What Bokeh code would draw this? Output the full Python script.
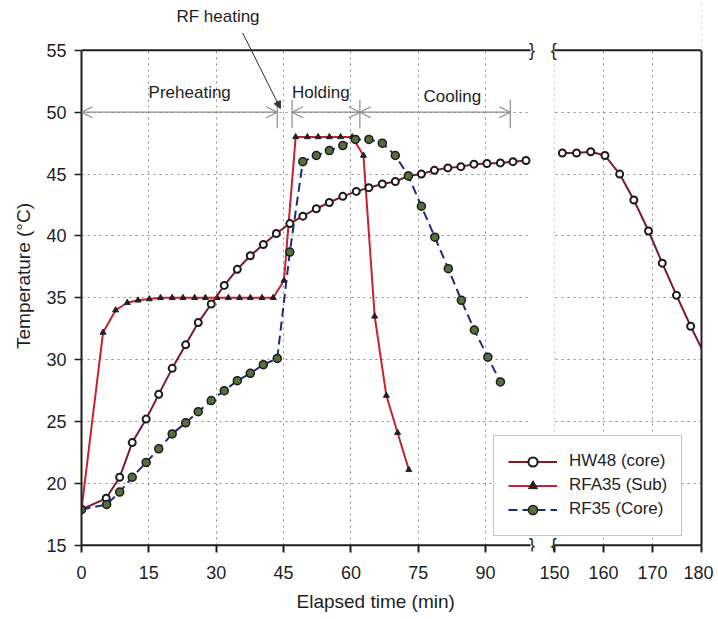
import numpy as np
from bokeh.plotting import figure
from bokeh.models import (Range1d, FixedTicker, LinearAxis, Legend, LegendItem,
                          Label, Arrow, OpenHead, NormalHead, BoxAnnotation, Title)
from bokeh.embed import file_html
from bokeh.resources import INLINE

# ---------------- data ----------------
HW48_TIME = [0, 5.5, 8.5, 11.3, 14.4, 17.2, 20.2, 23.2, 26.0, 28.9, 31.8, 34.7, 37.6, 40.5,
             43.4, 46.4, 49.3, 52.3, 55.2, 58.2, 61.2, 64.0, 67.0, 69.9, 72.8, 75.7, 78.6,
             81.6, 84.5, 87.4, 90.3, 93.3, 96.1, 99.0,
             151.6, 154.5, 157.4, 160.3, 163.3, 166.2, 169.2, 172.0, 174.9, 177.8, 180.9]
HW48_TEMP = [17.9, 18.8, 20.5, 23.3, 25.2, 27.2, 29.3, 31.2, 33.0, 34.5, 36.0, 37.3, 38.4, 39.3,
             40.2, 41.0, 41.6, 42.2, 42.7, 43.2, 43.6, 43.9, 44.2, 44.4, 44.85, 45.0, 45.3,
             45.5, 45.6, 45.8, 45.85, 45.9, 46.0, 46.1,
             46.7, 46.7, 46.8, 46.5, 45.0, 42.9, 40.4, 37.8, 35.2, 32.7, 30.2]

RFA35_TIME = [0, 4.8, 7.6, 10.2, 12.6, 15.1, 17.6, 20.2, 22.6, 25.2, 27.6, 30.2, 32.7, 35.2,
              37.6, 40.2, 42.7, 45.1, 47.7, 50.3, 52.7, 55.2, 57.7, 60.3, 62.8, 65.3, 67.9,
              70.4, 72.9]
RFA35_TEMP = [17.9, 32.2, 34.0, 34.6, 34.8, 34.9, 35.0, 35.0, 35.0, 35.0, 35.0, 35.0, 35.0, 35.0,
              35.0, 35.0, 35.0, 36.4, 48.0, 48.0, 48.0, 48.0, 48.0, 48.0, 46.5, 33.5, 27.1,
              24.1, 21.1]

RF35_TIME = [0, 5.6, 8.5, 11.3, 14.4, 17.2, 20.2, 23.2, 26.0, 28.9, 31.8, 34.7, 37.6, 40.5,
             43.6, 46.4, 49.3, 52.3, 55.2, 58.2, 61.0, 64.0, 67.0, 69.9, 72.8, 75.7, 78.7,
             81.7, 84.6, 87.5, 90.5, 93.3]
RF35_TEMP = [17.9, 18.3, 19.3, 20.5, 21.7, 22.8, 24.0, 24.9, 25.8, 26.7, 27.5, 28.3, 28.9, 29.6,
             30.1, 38.7, 46.0, 46.5, 46.9, 47.3, 47.8, 47.8, 47.5, 46.5, 44.85, 42.4, 39.9,
             37.35, 34.8, 32.4, 30.2, 28.2]

SERIES_NAMES = ["HW48 (core)", "RFA35 (Sub)", "RF35 (Core)"]

X_TICKS_EARLY = [0, 15, 30, 45, 60, 75, 90]
X_TICKS_LATE = [150, 160, 170, 180]
Y_TICKS = [15, 20, 25, 30, 35, 40, 45, 50, 55]

EARLY_LIMITS = (0, 100)     # first axis segment (min)
LATE_LIMITS = (150, 180)    # second axis segment (min)

PHASE_NAMES = ["Preheating", "Holding", "Cooling"]
PHASE_SPANS = [(0, 43.6), (46.9, 62.0), (62.0, 95.5)]
PHASE_LEVEL = 50

# ---------------- broken time axis ----------------
BREAK_GAP = 5.35      # display units between the two segments
LATE_STRETCH = 1.091  # the late segment is drawn slightly wider per minute


def disp(t):
    t = np.asarray(t, dtype=float)
    return np.where(t < (EARLY_LIMITS[1] + LATE_LIMITS[0]) / 2, t,
                    EARLY_LIMITS[1] + BREAK_GAP + (t - LATE_LIMITS[0]) * LATE_STRETCH)


FONT = "Liberation Sans"
INK = "#1e1e1e"
HW_COLOR = "#7d1a2a"
RFA_COLOR = "#c8202f"
RF_COLOR = "#1c2a80"
GRID = "#8a8a8a"

X_END = float(disp(LATE_LIMITS[1])) + 0.01
Y_START = 14.5
PX_PER_DEG = 12.375
FRAME_H = 551

p = figure(frame_width=620, frame_height=FRAME_H,
           x_range=Range1d(0, X_END),
           y_range=Range1d(Y_START, Y_START + FRAME_H / PX_PER_DEG),
           output_backend="svg", toolbar_location=None,
           min_border_left=81, min_border_right=12, min_border_top=0, min_border_bottom=67)
p.outline_line_color = None
p.background_fill_color = "white"

# ticks / axes
xt_vals = X_TICKS_EARLY + X_TICKS_LATE
xt_pos = [float(v) for v in disp(xt_vals)]
p.xaxis.ticker = FixedTicker(ticks=xt_pos)
p.xaxis.major_label_overrides = {pos: str(v) for pos, v in zip(xt_pos, xt_vals)}
p.xaxis.axis_line_color = None
p.xaxis.major_tick_out = 1
p.xaxis.major_tick_in = 6
p.xaxis.major_tick_line_width = 2
p.xaxis.major_tick_line_color = INK
p.xaxis.major_label_standoff = 13
p.xaxis.major_label_text_font = FONT
p.xaxis.major_label_text_font_size = "18px"
p.xaxis.major_label_text_color = INK

p.yaxis.ticker = FixedTicker(ticks=Y_TICKS)
p.yaxis.bounds = (Y_TICKS[0], Y_TICKS[-1])
p.yaxis.axis_line_width = 2
p.yaxis.axis_line_color = INK
p.yaxis.major_tick_out = 7
p.yaxis.major_tick_in = 0
p.yaxis.major_tick_line_width = 1.5
p.yaxis.major_tick_line_color = INK
p.yaxis.major_label_standoff = 8
p.yaxis.major_label_text_font = FONT
p.yaxis.major_label_text_font_size = "18px"
p.yaxis.major_label_text_color = INK
p.yaxis.axis_label = "Temperature (°C)"
p.yaxis.axis_label_text_font = FONT
p.yaxis.axis_label_text_font_size = "19px"
p.yaxis.axis_label_text_font_style = "normal"
p.yaxis.axis_label_text_color = INK
p.yaxis.axis_label_standoff = 9

right_axis = LinearAxis(ticker=FixedTicker(ticks=[]), major_tick_out=0, major_tick_in=0,
                        major_label_text_font_size="0px", axis_line_width=2,
                        axis_line_color=INK, bounds=(Y_TICKS[0], Y_TICKS[-1]))
p.add_layout(right_axis, "right")

# x-axis title, centred under the broken axis as in the original
p.add_layout(Title(text="Elapsed time (min)", align="left", offset=215, standoff=14,
                   text_font=FONT, text_font_size="19px", text_font_style="normal",
                   text_color=INK), "below")

# grids
p.xgrid.ticker = FixedTicker(ticks=xt_pos)
p.ygrid.ticker = FixedTicker(ticks=Y_TICKS)
for g in (p.xgrid, p.ygrid):
    g.grid_line_color = GRID
    g.grid_line_dash = "2 4"
    g.grid_line_width = 1

# white masks: outside the top/bottom borders and inside the axis break
p.add_layout(BoxAnnotation(bottom=Y_TICKS[-1], fill_color="white", fill_alpha=1,
                           line_color=None, level="underlay"))
p.add_layout(BoxAnnotation(top=Y_TICKS[0], fill_color="white", fill_alpha=1,
                           line_color=None, level="underlay"))
p.add_layout(BoxAnnotation(left=EARLY_LIMITS[1], right=float(disp(LATE_LIMITS[0])),
                           fill_color="white", fill_alpha=1, line_color=None, level="underlay"))

# frame borders (top and bottom, two segments)
seg_x0 = [float(v) for v in disp([EARLY_LIMITS[0], LATE_LIMITS[0]])]
seg_x1 = [float(v) for v in disp([EARLY_LIMITS[1], LATE_LIMITS[1]])]
for yb in (Y_TICKS[0], Y_TICKS[-1]):
    p.segment(x0=seg_x0, x1=seg_x1, y0=[yb, yb], y1=[yb, yb], line_color=INK, line_width=2)

# ---------------- series ----------------
hw_t = np.array(HW48_TIME)
hw_y = np.array(HW48_TEMP)
early = hw_t < 125

rfa_line = p.line(disp(RFA35_TIME), RFA35_TEMP, line_color=RFA_COLOR, line_width=2)
rfa_pts = p.scatter(disp(RFA35_TIME), RFA35_TEMP, marker="triangle", size=6,
                    fill_color="#222222", line_color="#222222")

hw_line = p.line(disp(hw_t[early]), hw_y[early], line_color=HW_COLOR, line_width=2)
hw_line2 = p.line(disp(hw_t[~early]), hw_y[~early], line_color=HW_COLOR, line_width=2)
hw_pts = p.scatter(disp(hw_t), hw_y, marker="circle", size=7, fill_color="white",
                   line_color="#1a1a1a", line_width=2)

rf_line = p.line(disp(RF35_TIME), RF35_TEMP, line_color=RF_COLOR, line_width=2,
                 line_dash="9 5")
rf_pts = p.scatter(disp(RF35_TIME), RF35_TEMP, marker="circle", size=8,
                   fill_color="#55703a", line_color="#1a1a1a", line_width=1.5)

# ---------------- phase annotations ----------------
ARROW_GRAY = "#8a8a8a"
for (a, b) in PHASE_SPANS:
    p.add_layout(Arrow(start=OpenHead(size=11, line_color=ARROW_GRAY, line_width=1.2),
                       end=OpenHead(size=11, line_color=ARROW_GRAY, line_width=1.2),
                       x_start=a, y_start=PHASE_LEVEL, x_end=b, y_end=PHASE_LEVEL,
                       line_color=ARROW_GRAY, line_width=1.2))
edges = sorted({e for span in PHASE_SPANS for e in span if e > 0})
p.segment(x0=edges, x1=edges, y0=[PHASE_LEVEL - 1.3] * len(edges),
          y1=[PHASE_LEVEL + 1.0] * len(edges), line_color=ARROW_GRAY, line_width=1.2)

for name, xc, yc in zip(PHASE_NAMES, [24.1, 53.3, 82.6], [51.6, 51.6, 51.25]):
    p.add_layout(Label(x=xc, y=yc, text=name, text_align="center", text_baseline="middle",
                       text_font=FONT, text_font_size="17px", text_color=INK))

p.add_layout(Label(x=30.4, y=57.75, text="RF heating", text_align="center",
                   text_baseline="middle", text_font=FONT, text_font_size="17px",
                   text_color=INK))
p.add_layout(Arrow(end=NormalHead(size=7, fill_color="#333333", line_color="#333333"),
                   x_start=35.9, y_start=56.4, x_end=44.3, y_end=50.3,
                   line_color="#333333", line_width=1))

# break marks
for yb in (Y_TICKS[0], Y_TICKS[-1]):
    p.add_layout(Label(x=EARLY_LIMITS[1] + 0.35, y=yb, text="}", text_align="center",
                       text_baseline="middle", text_font=FONT, text_font_size="18px",
                       text_color=INK))
    p.add_layout(Label(x=float(disp(LATE_LIMITS[0])) - 0.15, y=yb, text="{",
                       text_align="center", text_baseline="middle", text_font=FONT,
                       text_font_size="18px", text_color=INK))

# ---------------- legend ----------------
legend = Legend(items=[LegendItem(label=SERIES_NAMES[0], renderers=[hw_line, hw_pts]),
                       LegendItem(label=SERIES_NAMES[1], renderers=[rfa_line, rfa_pts]),
                       LegendItem(label=SERIES_NAMES[2], renderers=[rf_line, rf_pts])],
                location=(412, 15.5), orientation="vertical",
                border_line_color="#8088c0", border_line_width=1.2,
                background_fill_color="white", background_fill_alpha=1,
                label_text_font=FONT, label_text_font_size="17px", label_text_color=INK,
                glyph_width=49, glyph_height=23, label_height=23, spacing=1,
                padding=14, label_standoff=12, margin=0)
p.add_layout(legend)

open("out.html", "w").write(file_html(p, INLINE))
